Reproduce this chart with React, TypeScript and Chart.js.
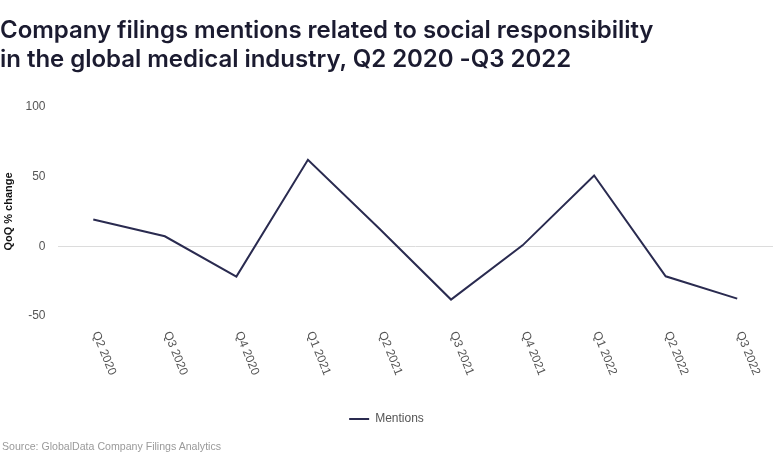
import React, { useEffect, useRef } from "react";
import { Chart, registerables } from "chart.js";

Chart.register(...registerables);

const categories = [
  "Q2 2020", "Q3 2020", "Q4 2020", "Q1 2021", "Q2 2021",
  "Q3 2021", "Q4 2021", "Q1 2022", "Q2 2022", "Q3 2022",
];
const mentions = [19.3, 7.2, -21.7, 62.1, 12.6, -38.2, 0.7, 50.9, -21.5, -37.5];
const yTicks = [-50, 0, 50, 100];

const seriesName = "Mentions";
const titleLines = [
  "Company filings mentions related to social responsibility",
  "in the global medical industry, Q2 2020 -Q3 2022",
];
const sourceText = "Source: GlobalData Company Filings Analytics";
const yAxisTitle = "QoQ % change";

const LINE_COLOR = "#2a2b50";
const TICK_COLOR = "#555555";
const FONT = '"Liberation Sans", Arial, sans-serif';

const xLabelPlugin = {
  id: "xLabelsRotated",
  afterDraw(chart: any) {
    const { ctx } = chart;
    const x = chart.scales.x;
    ctx.save();
    ctx.font = `12px ${FONT}`;
    ctx.fillStyle = TICK_COLOR;
    ctx.textAlign = "left";
    ctx.textBaseline = "middle";
    categories.forEach((c, i) => {
      const px = x.getPixelForValue(i);
      ctx.save();
      ctx.translate(px + 2, x.top + 16);
      ctx.rotate((68 * Math.PI) / 180);
      ctx.fillText(c, 0, 0);
      ctx.restore();
    });
    ctx.restore();
  },
};

export default function App() {
  const canvasRef = useRef<HTMLCanvasElement | null>(null);

  useEffect(() => {
    document.body.style.margin = "0";
    const canvas = canvasRef.current;
    if (!canvas) return;
    const chart = new Chart(canvas, {
      type: "line",
      data: {
        labels: categories,
        datasets: [
          {
            label: seriesName,
            data: mentions,
            borderColor: LINE_COLOR,
            backgroundColor: LINE_COLOR,
            borderWidth: 2,
            pointRadius: 0,
            pointHoverRadius: 0,
            tension: 0,
            fill: false,
          },
        ],
      },
      options: {
        animation: false,
        responsive: true,
        maintainAspectRatio: false,
        layout: { padding: { top: 107, left: 0, right: 0, bottom: 34 } },
        plugins: {
          title: { display: false },
          tooltip: { enabled: false },
          legend: {
            display: true,
            position: "bottom",
            align: "center",
            labels: {
              usePointStyle: true,
              pointStyle: "line",
              pointStyleWidth: 20,
              boxHeight: 12,
              padding: 10,
              color: TICK_COLOR,
              font: { family: FONT, size: 12 },
            },
          },
        },
        scales: {
          x: {
            type: "category",
            offset: true,
            grid: { display: false },
            border: { display: false },
            ticks: { display: false },
            afterFit(scale: any) {
              scale.height = 87;
            },
          },
          y: {
            min: -50,
            max: 100,
            afterBuildTicks(scale: any) {
              scale.ticks = yTicks.map((v) => ({ value: v }));
            },
            afterFit(scale: any) {
              scale.width = 57.5;
            },
            border: { display: false },
            grid: {
              drawTicks: false,
              color: (ctx: any) =>
                ctx.tick && ctx.tick.value === 0 ? "#dcdcdc" : "rgba(0,0,0,0)",
              lineWidth: 1,
            },
            ticks: {
              padding: 12,
              color: TICK_COLOR,
              font: { family: FONT, size: 12 },
            },
            title: {
              display: true,
              text: yAxisTitle,
              color: "#111111",
              font: { family: FONT, size: 11, weight: "bold" },
              padding: { top: 2, bottom: 0 },
            },
          },
        },
      },
      plugins: [xLabelPlugin],
    });
    return () => chart.destroy();
  }, []);

  return (
    <div style={{ position: "relative", width: 773, height: 469, background: "#fff" }}>
      <canvas ref={canvasRef} style={{ position: "absolute", left: 0, top: 0 }} />
      <div
        style={{
          position: "absolute",
          left: 0,
          top: 15,
          fontFamily: "Inter, 'Noto Sans', sans-serif",
          fontWeight: 600,
          fontSize: 24,
          lineHeight: "29px",
          letterSpacing: "-0.03px",
          color: "#1b1b30",
          whiteSpace: "nowrap",
        }}
      >
        {titleLines.map((l, i) => (
          <div key={i}>{l}</div>
        ))}
      </div>
      <div
        style={{
          position: "absolute",
          left: 2,
          top: 440,
          fontFamily: FONT,
          fontSize: 10.6,
          lineHeight: "13px",
          color: "#9a9a9a",
          whiteSpace: "nowrap",
        }}
      >
        {sourceText}
      </div>
    </div>
  );
}
